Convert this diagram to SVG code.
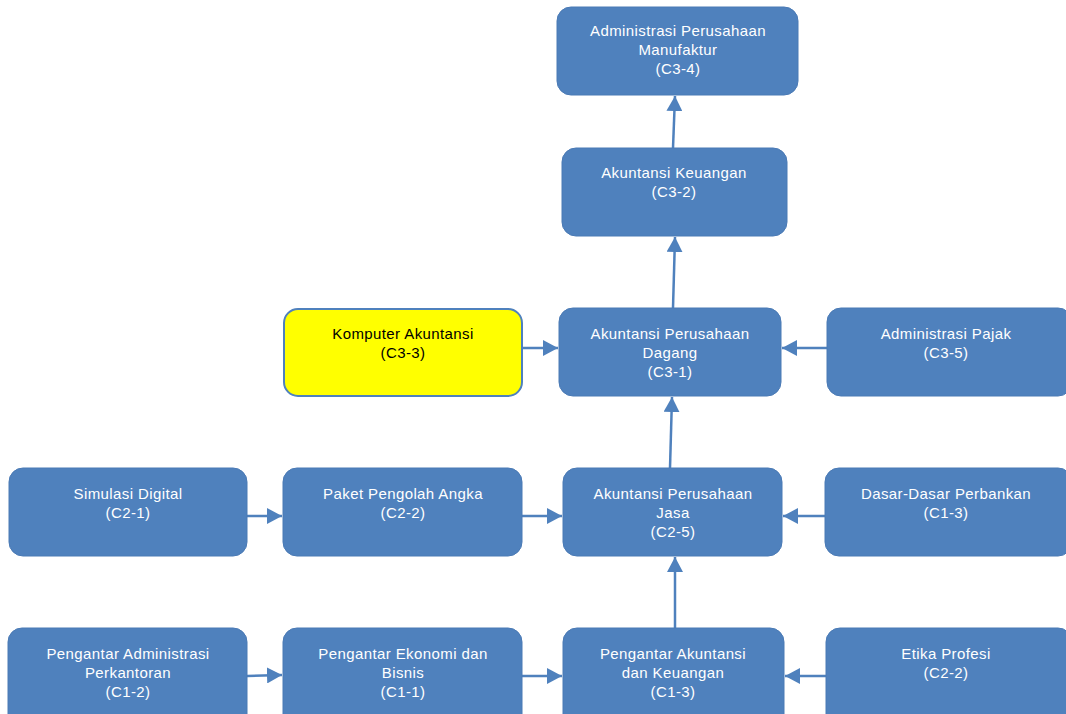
<svg xmlns="http://www.w3.org/2000/svg" width="1066" height="714" viewBox="0 0 1066 714">
<style>
.n{fill:#4f81bd;stroke:#4a7ab5;stroke-width:1}
.y{fill:#ffff00;stroke:#4f81bd;stroke-width:2}
.t{font-family:"Liberation Sans",Arial,sans-serif;font-size:15px;letter-spacing:0.4px;fill:#ffffff;text-anchor:middle}
.k{fill:#000000}
.c{stroke:#4f81bd;stroke-width:2.5;fill:none;marker-end:url(#a)}
</style>
<defs>
<marker id="a" markerUnits="userSpaceOnUse" markerWidth="16" markerHeight="16" refX="15" refY="8" orient="auto">
<path d="M0,0 L15,8 L0,16 Z" fill="#4f81bd"/>
</marker>
</defs>
<rect width="1066" height="714" fill="#ffffff"/>
<g id="connectors">
<line class="c" x1="673" y1="148" x2="675" y2="96"/>
<line class="c" x1="673" y1="308" x2="675" y2="237"/>
<line class="c" x1="670" y1="468" x2="672" y2="397"/>
<line class="c" x1="675" y1="628" x2="675" y2="557"/>
<line class="c" x1="522" y1="348" x2="558" y2="348"/>
<line class="c" x1="827" y1="348" x2="782" y2="348"/>
<line class="c" x1="247" y1="516" x2="282" y2="516"/>
<line class="c" x1="522" y1="516" x2="562" y2="516"/>
<line class="c" x1="825" y1="516" x2="783" y2="516"/>
<line class="c" x1="247" y1="676" x2="282" y2="675"/>
<line class="c" x1="522" y1="676" x2="562" y2="676"/>
<line class="c" x1="826" y1="676" x2="785" y2="676"/>
</g>
<g id="c34"><rect class="n" x="557" y="7" width="241" height="88" rx="14"/>
<text class="t" x="678" y="36">Administrasi Perusahaan</text><text class="t" x="678" y="55">Manufaktur</text><text class="t" x="678" y="74">(C3-4)</text></g>
<g id="c32"><rect class="n" x="562" y="148" width="225" height="88" rx="14"/>
<text class="t" x="674" y="178">Akuntansi Keuangan</text><text class="t" x="674" y="197">(C3-2)</text></g>
<g id="c33"><rect class="y" x="284" y="309" width="238" height="87" rx="14"/>
<text class="t k" x="403" y="339">Komputer Akuntansi</text><text class="t k" x="403" y="358">(C3-3)</text></g>
<g id="c31"><rect class="n" x="559" y="308" width="222" height="88" rx="14"/>
<text class="t" x="670" y="339">Akuntansi Perusahaan</text><text class="t" x="670" y="358">Dagang</text><text class="t" x="670" y="377">(C3-1)</text></g>
<g id="c35"><rect class="n" x="827" y="308" width="245" height="88" rx="14"/>
<text class="t" x="946" y="339">Administrasi Pajak</text><text class="t" x="946" y="358">(C3-5)</text></g>
<g id="c21"><rect class="n" x="9" y="468" width="238" height="88" rx="14"/>
<text class="t" x="128" y="499">Simulasi Digital</text><text class="t" x="128" y="518">(C2-1)</text></g>
<g id="c22"><rect class="n" x="283" y="468" width="239" height="88" rx="14"/>
<text class="t" x="403" y="499">Paket Pengolah Angka</text><text class="t" x="403" y="518">(C2-2)</text></g>
<g id="c25"><rect class="n" x="563" y="468" width="219" height="88" rx="14"/>
<text class="t" x="673" y="499">Akuntansi Perusahaan</text><text class="t" x="673" y="518">Jasa</text><text class="t" x="673" y="537">(C2-5)</text></g>
<g id="dasar"><rect class="n" x="825" y="468" width="247" height="88" rx="14"/>
<text class="t" x="946" y="499">Dasar-Dasar Perbankan</text><text class="t" x="946" y="518">(C1-3)</text></g>
<g id="c12"><rect class="n" x="8" y="628" width="239" height="100" rx="14"/>
<text class="t" x="128" y="659">Pengantar Administrasi</text><text class="t" x="128" y="678">Perkantoran</text><text class="t" x="128" y="697">(C1-2)</text></g>
<g id="c11"><rect class="n" x="283" y="628" width="239" height="100" rx="14"/>
<text class="t" x="403" y="659">Pengantar Ekonomi dan</text><text class="t" x="403" y="678">Bisnis</text><text class="t" x="403" y="697">(C1-1)</text></g>
<g id="c13"><rect class="n" x="563" y="628" width="221" height="100" rx="14"/>
<text class="t" x="673" y="659">Pengantar Akuntansi</text><text class="t" x="673" y="678">dan Keuangan</text><text class="t" x="673" y="697">(C1-3)</text></g>
<g id="etika"><rect class="n" x="826" y="628" width="246" height="100" rx="14"/>
<text class="t" x="946" y="659">Etika Profesi</text><text class="t" x="946" y="678">(C2-2)</text></g>
</svg>
